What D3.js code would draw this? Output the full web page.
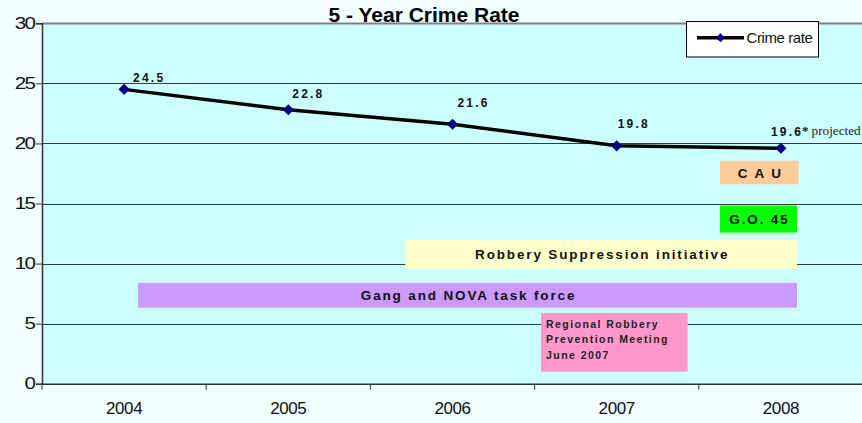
<!DOCTYPE html>
<html><head><meta charset="utf-8">
<script src="https://cdn.jsdelivr.net/npm/d3@7"></script>
<style>
html,body{margin:0;padding:0;background:#f2feff;}
svg{display:block;}
</style></head>
<body>
<svg id="chart" width="862" height="423"></svg>
<script>
// ---- data ----
const years = ["2004","2005","2006","2007","2008"];
const crimeRate = [24.5, 22.8, 21.6, 19.8, 19.6];
const valueLabels = ["24.5","22.8","21.6","19.8","19.6"];
const projectedNote = "projected";
const yTicks = [0,5,10,15,20,25,30];
const seriesName = "Crime rate";
const titleText = "5 - Year Crime Rate";
// annotation spans: x in category units (0 = left edge of 2004), y in rate units
const annotations = [
  {text:["C A U"], x0:4.129, x1:4.608, y0:16.6, y1:18.56, fill:"#ffcc99"},
  {text:["G.O. 45"], x0:4.129, x1:4.598, y0:12.58, y1:14.83, fill:"#00ff00"},
  {text:["Robbery Suppression initiative"], x0:2.213, x1:4.598, y0:9.56, y1:11.98, fill:"#ffffcc"},
  {text:["Gang and NOVA task force"], x0:0.585, x1:4.598, y0:6.33, y1:8.39, fill:"#cc99ff"},
  {text:["Regional Robbery","Prevention Meeting","June 2007"], x0:3.039, x1:3.932, y0:1.0, y1:5.89, fill:"#ff99cc", left:true}
];

// ---- layout ----
const svg = d3.select("#chart");
const FONT = "Liberation Sans, Arial, sans-serif";
const SERIF = "Liberation Serif, Times New Roman, serif";
const L = 42, R = 863, T = 23.3, B = 383.7;
const x = d3.scaleBand().domain(years).range([L, R]);
const xc = d3.scaleLinear().domain([0, years.length]).range([L, R]);
const y = d3.scaleLinear().domain([0, 30]).range([B, T]);

// plot background
svg.append("rect").attr("x", L).attr("y", T).attr("width", R - L).attr("height", B - T).attr("fill", "#ccffff");

// gridlines
svg.append("g").selectAll("line").data(yTicks.filter(d => d > 0)).join("line")
  .attr("x1", L).attr("x2", R)
  .attr("y1", d => Math.round(y(d)) + 0.5).attr("y2", d => Math.round(y(d)) + 0.5)
  .attr("stroke", d => d === 30 ? "#808080" : "#3a3a3a").attr("stroke-width", d => d === 30 ? 2 : 1);

// title
svg.append("text").attr("x", 424).attr("y", 22).attr("text-anchor", "middle")
  .attr("font-family", FONT).attr("font-weight", "bold")
  .attr("font-size", 21).attr("fill", "#000").text(titleText);

// annotation boxes
const ann = svg.append("g");
annotations.forEach(a => {
  const bx = xc(a.x0), bw = xc(a.x1) - xc(a.x0), by = y(a.y1), bh = y(a.y0) - y(a.y1);
  ann.append("rect").attr("x", bx).attr("y", by).attr("width", bw).attr("height", bh).attr("fill", a.fill);
  if (a.left) {
    a.text.forEach((t, i) => {
      ann.append("text").attr("x", bx + 5).attr("y", by + 14.7 + i * 15.8)
        .attr("font-family", FONT).attr("font-weight", "bold")
        .attr("font-size", 10.5).attr("letter-spacing", 1.45).attr("fill", "#222").text(t);
    });
  } else {
    ann.append("text").attr("x", bx + bw / 2 + 1).attr("y", by + bh / 2 + 5).attr("text-anchor", "middle")
      .attr("font-family", FONT).attr("font-weight", "bold")
      .attr("font-size", 13.5).attr("letter-spacing", 1.85).attr("fill", "#111").text(a.text[0]);
  }
});

// axes
const yAxis = d3.axisLeft(y).tickValues(yTicks).tickSize(6).tickPadding(2);
const gy = svg.append("g").attr("transform", `translate(${L},0)`).call(yAxis);
gy.select(".domain").attr("stroke", "#333").attr("stroke-width", 1.5);
gy.selectAll(".tick line").attr("stroke", "#333");
gy.selectAll(".tick text").attr("font-family", FONT).attr("font-size", 16.5)
  .attr("fill", "#111").attr("letter-spacing", -1.5)
  .attr("x", -8 / 1.25).attr("transform", "scale(1.25,1)");

const xAxis = d3.axisBottom(x).tickSize(0).tickPadding(18);
const gx = svg.append("g").attr("transform", `translate(0,${B})`).call(xAxis);
gx.select(".domain").attr("stroke", "#333").attr("stroke-width", 1.5);
gx.selectAll(".tick text").attr("font-family", FONT).attr("font-size", 17)
  .attr("fill", "#111").attr("letter-spacing", -0.4);
// category separator ticks
svg.append("g").selectAll("line").data(d3.range(0, years.length + 1)).join("line")
  .attr("x1", d => xc(d)).attr("x2", d => xc(d)).attr("y1", B).attr("y2", B + 6)
  .attr("stroke", "#333").attr("stroke-width", 1);

// series line
const pts = years.map((yr, i) => ({yr, v: crimeRate[i], lab: valueLabels[i]}));
const line = d3.line().x(d => x(d.yr) + x.bandwidth() / 2).y(d => y(d.v));
svg.append("path").datum(pts).attr("d", line).attr("fill", "none").attr("stroke", "#000").attr("stroke-width", 3.5);
svg.append("g").selectAll("path").data(pts).join("path")
  .attr("transform", d => `translate(${x(d.yr) + x.bandwidth() / 2},${y(d.v)}) rotate(45)`)
  .attr("d", d3.symbol().type(d3.symbolSquare).size(62)).attr("fill", "#000080");

// value labels (manually offset as in the original)
const labelDx = [9, 4, 5, 1, -10];
const labelDy = [-7, -12, -17, -18, -12];
const lg = svg.append("g");
pts.forEach((d, i) => {
  const lx = x(d.yr) + x.bandwidth() / 2 + labelDx[i], ly = y(d.v) + labelDy[i];
  const t = lg.append("text").attr("x", lx).attr("y", ly)
    .attr("font-family", FONT).attr("font-weight", "bold")
    .attr("font-size", 12).attr("letter-spacing", 2.2).attr("fill", "#111").text(d.lab);
  if (i === pts.length - 1) {
    const w = t.node().getComputedTextLength();
    const star = lg.append("text").attr("x", lx + w - 1).attr("y", ly - 1)
      .attr("font-family", SERIF).attr("font-weight", "bold").attr("font-size", 13)
      .attr("fill", "#111").text("*");
    const sw = star.node().getComputedTextLength();
    lg.append("text").attr("x", lx + w - 1 + sw + 3).attr("y", ly - 1)
      .attr("font-family", SERIF).attr("font-size", 13.2).attr("fill", "#222").text(projectedNote);
  }
});

// legend
const leg = svg.append("g");
leg.append("rect").attr("x", 686.5).attr("y", 21.5).attr("width", 132).attr("height", 35.5)
  .attr("fill", "#fff").attr("stroke", "#000").attr("stroke-width", 1);
leg.append("line").attr("x1", 697).attr("x2", 744).attr("y1", 37.7).attr("y2", 37.7).attr("stroke", "#000").attr("stroke-width", 3.5);
leg.append("path").attr("transform", "translate(720.5,37.7) rotate(45)")
  .attr("d", d3.symbol().type(d3.symbolSquare).size(40)).attr("fill", "#000080");
leg.append("text").attr("x", 746.5).attr("y", 43).attr("font-family", FONT)
  .attr("font-size", 15).attr("letter-spacing", -0.4).attr("fill", "#111").text(seriesName);
</script>
</body></html>
